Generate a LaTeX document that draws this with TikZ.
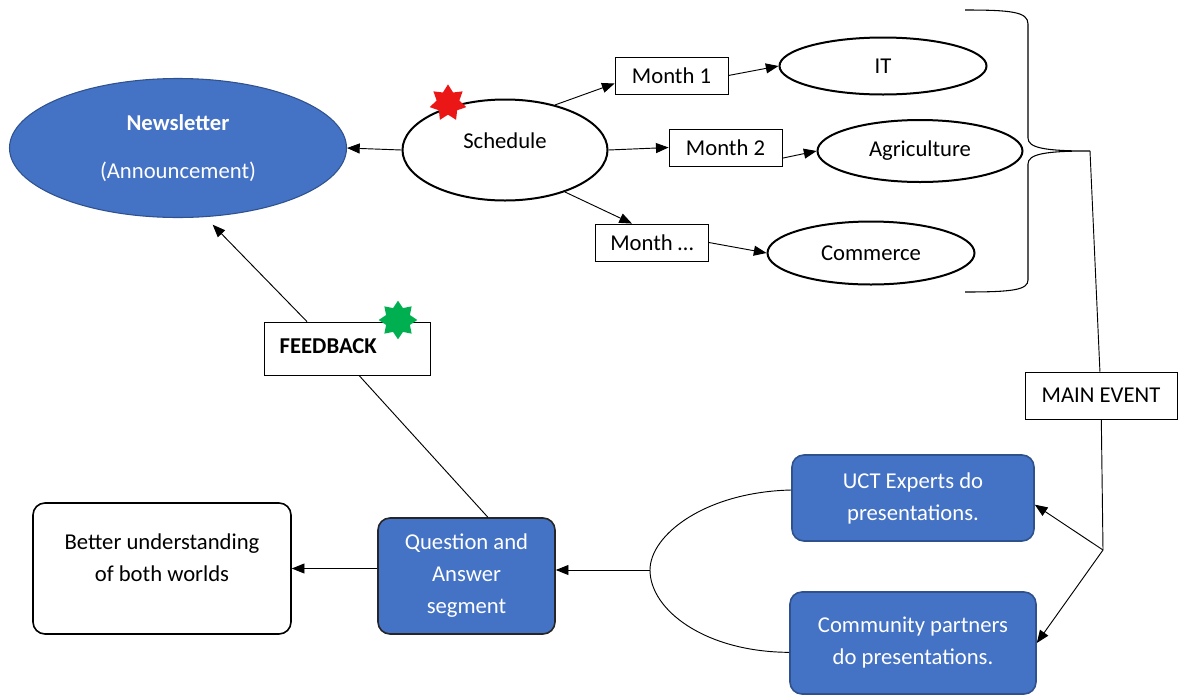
\documentclass[tikz,border=0pt]{standalone}
\usepackage{fontspec}
\setmainfont{Carlito}
\usetikzlibrary{shapes.geometric,arrows.meta}
\definecolor{newsblue}{RGB}{68,114,196}
\definecolor{edgeblue}{RGB}{47,82,143}
\definecolor{starred}{RGB}{235,22,22}
\definecolor{stargreen}{RGB}{0,176,80}
\tikzstyle{plain ellipse} = [ellipse,draw,line width=1.5pt,inner sep=0]
\tikzstyle{month box}     = [rectangle,draw,line width=0.6pt,inner sep=0,minimum width=84.75pt,minimum height=27.75pt]
\tikzstyle{blue box}      = [rectangle,rounded corners=9pt,draw=edgeblue,line width=1.2pt,fill=newsblue,text=white,align=center,inner sep=0]
\tikzstyle{arr}           = [-{Triangle[length=9.5pt,width=7.5pt]},line width=0.7pt]

\begin{document}
\begin{tikzpicture}[x=0.75pt,y=-0.75pt,font=\fontsize{17}{24}\selectfont]

    \useasboundingbox (0,0) rectangle (1178,697);

    % Newsletter and schedule
    \node(news)[ellipse,draw=edgeblue,line width=0.8pt,fill=newsblue,text=white,align=center,inner sep=0,
        minimum width=252.75pt,minimum height=104.25pt] at (178,148)
        {\bfseries Newsletter\\[12pt](Announcement)};
    \node(sched)[plain ellipse,minimum width=153.75pt,minimum height=75.75pt,
        label={[yshift=6.75pt]center:Schedule}] at (505,150) {};

    % Months
    \node(m1)[month box] at (671.5,75.5) {Month 1};
    \node(m2)[month box] at (725.5,147.5) {Month 2};
    \node(m3)[month box] at (652,242.5) {Month \dots};

    % Faculties
    \node(it)[plain ellipse,minimum width=155.25pt,minimum height=42.75pt] at (883,66) {IT};
    \node(agri)[plain ellipse,minimum width=153.75pt,minimum height=46.5pt] at (920,151) {Agriculture};
    \node(comm)[plain ellipse,minimum width=155.25pt,minimum height=47.25pt] at (871,253) {Commerce};

    % Main event and presentations
    \node(main)[rectangle,draw,line width=0.6pt,inner sep=0,minimum width=114pt,minimum height=35.25pt] at (1101,395.5) {MAIN EVENT};
    \node(uct)[blue box,minimum width=181.5pt,minimum height=64.5pt] at (913,498) {UCT Experts do\\presentations.};
    \node(partners)[blue box,minimum width=184.5pt,minimum height=76.5pt] at (913,643) {Community partners\\do presentations.};

    % Question and answer
    \node(qa)[blue box,draw=black!85,minimum width=132.75pt,minimum height=87pt] at (466.5,576) {Question and\\Answer\\segment};
    \node(better)[rectangle,rounded corners=9pt,draw,line width=1.2pt,align=center,inner sep=0,
        minimum width=193.5pt,minimum height=98.25pt] at (162,568.5) {Better understanding\\of both worlds\\[-8pt]};
    \node(fb)[rectangle,draw,line width=0.6pt,inner sep=0,minimum width=124.5pt,minimum height=39.75pt] at (347,348.5) {};
    \node(fbtext)[anchor=west,font=\fontsize{17}{24}\selectfont\bfseries] at (275,346) {FEEDBACK};

    % Stars
    \node(redstar)[star,star points=7,star point ratio=1.6,fill=starred,minimum size=28pt,inner sep=0] at (448,103) {};
    \node(greenstar)[star,star points=8,star point ratio=1.5,fill=stargreen,minimum size=29pt,inner sep=0] at (398,320) {};

    % Brace round the faculties
    \coordinate(bracetip) at (1090,151);
    \draw[line width=0.8pt] (965,10) .. controls (1012,10) and (1028,12) .. (1028,24) -- (1028,138)
        .. controls (1028,148) and (1045,151) .. (bracetip)
        .. controls (1045,151) and (1028,154) .. (1028,164) -- (1028,280)
        .. controls (1028,290) and (1012,292) .. (965,292);

    % Schedule arrows
    \draw[arr] (sched.west) -- (news.east);
    \draw[arr] (sched.42) -- ([yshift=-6pt]m1.west);
    \draw[arr] (sched.east) -- (m2.west);
    \draw[arr] (sched.-35) -- ([xshift=-15pt]m3.north);
    \draw[arr] (m1.east) -- (it.west);
    \draw[arr] ([yshift=-8pt]m2.east) -- (agri.west);
    \draw[arr] (m3.east) -- (comm.west);

    % Main event
    \coordinate(split) at (1103,550);
    \draw[line width=0.7pt] (bracetip) -- (main);
    \draw[line width=0.7pt] (main) -- (split);
    \draw[arr] (split) -- ([yshift=-5pt]uct.east);
    \draw[arr] (split) -- (partners.east);

    % Presentations into Q and A
    \coordinate(arcmid) at (650,570);
    \draw[line width=0.7pt] ([yshift=6pt]uct.west) .. controls (705,492) and (650,535) .. (arcmid)
        .. controls (650,610) and (705,652) .. ([yshift=-7pt]partners.west);
    \draw[arr] (arcmid) -- (qa.east |- arcmid);
    \draw[arr] (qa.west |- better) -- (better.east);

    % Feedback loop
    \draw[line width=0.7pt] ([xshift=16pt]qa.north) -- ([xshift=9pt]fb.south);
    \draw[arr] ([xshift=-30pt]fb.north) -- ([xshift=26pt,yshift=-5pt]news.south);

\end{tikzpicture}
\end{document}
